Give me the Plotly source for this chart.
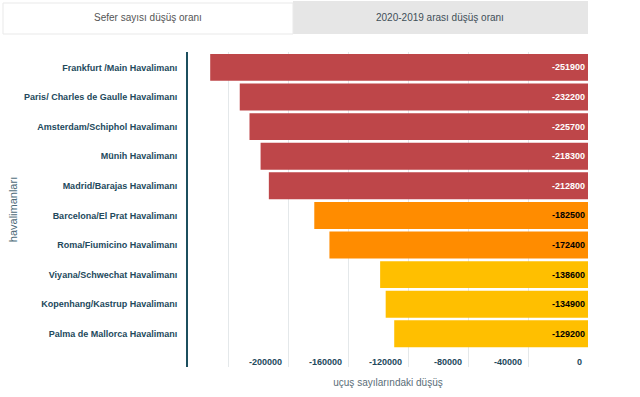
import plotly.graph_objects as go

airports = [
    "Frankfurt /Main Havalimanı",
    "Paris/ Charles de Gaulle Havalimanı",
    "Amsterdam/Schiphol Havalimanı",
    "Münih Havalimanı",
    "Madrid/Barajas Havalimanı",
    "Barcelona/El Prat Havalimanı",
    "Roma/Fiumicino Havalimanı",
    "Viyana/Schwechat Havalimanı",
    "Kopenhang/Kastrup Havalimanı",
    "Palma de Mallorca Havalimanı",
]
decline = [-251900, -232200, -225700, -218300, -212800,
           -182500, -172400, -138600, -134900, -129200]
bar_colors = ["#be4649"] * 5 + ["#ff8c00"] * 2 + ["#ffbf00"] * 3
text_colors = ["#ffffff"] * 5 + ["#000000"] * 5

tick_vals = [-240000, -200000, -160000, -120000, -80000, -40000, 0]
tick_text = ["", "-200000", "-160000", "-120000", "-80000", "-40000", "0"]

tab_labels = ["Sefer sayısı düşüş oranı", "2020-2019 arası düşüş oranı"]

FONT = "Liberation Sans, Arial, sans-serif"
TEAL = "#23495c"

fig = go.Figure(go.Bar(
    x=decline,
    y=airports,
    orientation="h",
    marker=dict(color=bar_colors, line=dict(width=0)),
    text=[str(v) for v in decline],
    textposition="inside",
    insidetextanchor="start",
    textangle=0,
    textfont=dict(family=FONT, size=9, color=text_colors, weight="bold"),
    constraintext="none",
    hoverinfo="skip",
))

W, H = 640, 397
L, R, T, B = 188, 52, 52, 30
pw, ph = W - L - R, H - T - B


def px(x):
    return (x - L) / pw


def py(y):
    return (H - B - y) / ph


shapes = [
    dict(type="rect", xref="paper", yref="paper",
         x0=px(293), x1=px(588), y0=py(34), y1=py(1),
         fillcolor="#e6e6e6", line=dict(width=0), layer="below"),
    dict(type="rect", xref="paper", yref="paper",
         x0=px(3), x1=px(293), y0=py(34), y1=py(3),
         fillcolor="#ffffff", line=dict(color="#e9e9e9", width=1), layer="below"),
]
annotations = [
    dict(xref="paper", yref="paper", x=px(148), y=py(18), text=tab_labels[0],
         showarrow=False, font=dict(family=FONT, size=10, color="#555555"),
         xanchor="center", yanchor="middle"),
    dict(xref="paper", yref="paper", x=px(440), y=py(18), text=tab_labels[1],
         showarrow=False, font=dict(family=FONT, size=10, color="#3f4f58"),
         xanchor="center", yanchor="middle"),
]

fig.update_layout(
    width=W, height=H,
    margin=dict(l=L, r=R, t=T, b=B, autoexpand=False),
    paper_bgcolor="#ffffff", plot_bgcolor="#ffffff",
    bargap=0.09,
    showlegend=False,
    shapes=shapes,
    annotations=annotations,
    xaxis=dict(
        range=[-266700, 0],
        tickvals=tick_vals, ticktext=tick_text,
        ticklabelposition="inside left",
        ticklabelshift=-6, ticklabelstandoff=-6,
        tickfont=dict(family=FONT, size=9, color=TEAL, weight="bold"),
        showgrid=True, gridcolor="#e4e8ea", gridwidth=1,
        zeroline=False, showline=False, ticks="",
        title=dict(text="uçuş sayılarındaki düşüş", standoff=12,
                   font=dict(family=FONT, size=10, color="#5a6e78")),
        automargin=False,
        fixedrange=True,
    ),
    yaxis=dict(
        categoryorder="array", categoryarray=airports,
        range=[10.12, -0.52],
        tickfont=dict(family=FONT, size=9, color=TEAL, weight="bold"),
        showgrid=False, zeroline=False,
        showline=True, linecolor="#1c4f5e", linewidth=2,
        ticks="", ticklabelstandoff=7,
        title=dict(text="havalimanları", standoff=4,
                   font=dict(family=FONT, size=11, color="#4d6a78")),
        automargin=False,
        fixedrange=True,
    ),
)

fig.write_html("out.html", config={"displayModeBar": False},
               post_script="document.body.style.margin='0';")
